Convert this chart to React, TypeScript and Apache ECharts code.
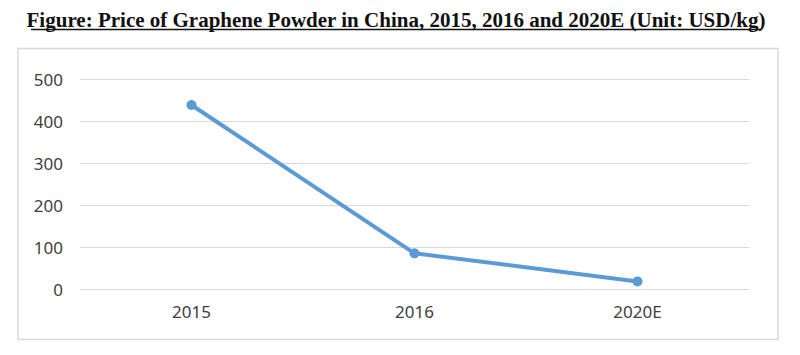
import React, { useEffect, useRef } from "react";
import * as echarts from "echarts";

const categories = ["2015", "2016", "2020E"];
const prices = [438, 85, 18];
const yTicks = [0, 100, 200, 300, 400, 500];
const titleText = "Figure: Price of Graphene Powder in China, 2015, 2016 and 2020E (Unit: USD/kg)";

export default function App() {
  const ref = useRef<HTMLDivElement>(null);
  useEffect(() => {
    document.body.style.margin = "0";
    const chart = echarts.init(ref.current!, null, { renderer: "svg" });
    chart.setOption({
      animation: false,
      backgroundColor: "#ffffff",
      graphic: [
        {
          type: "rect",
          shape: { x: 18, y: 48.5, width: 760, height: 291 },
          style: { fill: "none", stroke: "#d9d9d9", lineWidth: 1.5 },
          z: 0,
        },
        {
          type: "text",
          x: 396,
          y: 20,
          style: {
            text: titleText,
            font: "bold 21px 'Liberation Serif'",
            fill: "#111",
            align: "center",
            verticalAlign: "middle",
          },
        },
        {
          type: "line",
          shape: { x1: 31, y1: 29.5, x2: 761, y2: 29.5 },
          style: { stroke: "#111", lineWidth: 1.3 },
        },
      ],
      grid: { left: 80, right: 51, top: 79, bottom: 66, containLabel: false },
      xAxis: {
        type: "category",
        data: categories,
        boundaryGap: true,
        axisLine: { show: true, lineStyle: { color: "#d9d9d9", width: 1.2 } },
        axisTick: { show: false },
        axisLabel: { color: "#404040", fontSize: 17, fontFamily: "Noto Sans", margin: 14 },
      },
      yAxis: {
        type: "value",
        min: 0,
        max: 500,
        interval: 100,
        axisLine: { show: false },
        axisTick: { show: false },
        splitLine: { lineStyle: { color: "#d9d9d9", width: 1.2 } },
        axisLabel: {
          color: "#404040",
          fontSize: 17,
          fontFamily: "Noto Sans",
          margin: 17,
          formatter: (v: number) => (yTicks.includes(v) ? String(v) : ""),
        },
      },
      series: [
        {
          type: "line",
          data: prices,
          symbol: "circle",
          symbolSize: 10,
          lineStyle: { color: "#5b9bd5", width: 4 },
          itemStyle: { color: "#5b9bd5" },
        },
      ],
    });
    return () => chart.dispose();
  }, []);
  return <div ref={ref} style={{ width: 800, height: 355 }} />;
}
